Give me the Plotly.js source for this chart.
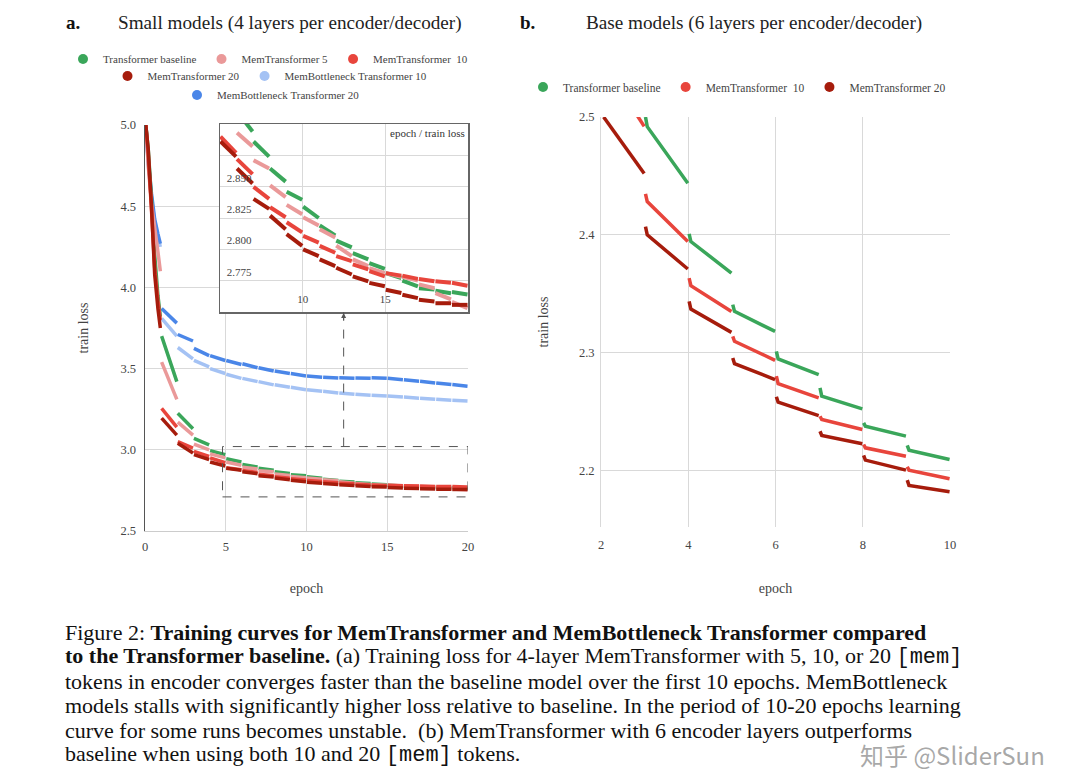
<!DOCTYPE html>
<html><head><meta charset="utf-8">
<script src="https://cdn.plot.ly/plotly-3.0.1.min.js"></script>
<style>html,body{margin:0;padding:0;background:#fff}#chart{width:1075px;height:781px}</style>
</head><body><div id="chart"></div>
<script>
// ===== Panel a: small models (train loss per epoch segment) =====
const firstEpochX = [0.05, 0.2, 0.4, 0.6, 0.8, 0.95];
const segEpochsA = [1,2,3,4,5,6,7,8,9,10,11,12,13,14,15,16,17,18,19];

const baselineFirstA = [5.0, 4.85, 4.55, 4.2, 3.95, 3.82];
const baselineStartA = [3.70, 3.225, 3.07, 2.995, 2.945, 2.91, 2.886, 2.8645, 2.846, 2.834, 2.819, 2.807, 2.797, 2.789, 2.781, 2.775, 2.769, 2.767, 2.766];
const baselineEndA   = [3.42, 3.13, 3.03, 2.97, 2.925, 2.894, 2.874, 2.854, 2.8395, 2.825, 2.811, 2.8015, 2.792, 2.7845, 2.777, 2.7705, 2.768, 2.765, 2.764];

const mem5FirstA = [5.0, 4.75, 4.52, 4.35, 4.22, 4.10];
const mem5StartA = [3.54, 3.17, 3.035, 2.975, 2.925, 2.893, 2.871, 2.851, 2.8355, 2.8256, 2.816, 2.803, 2.792, 2.785, 2.781, 2.778, 2.772, 2.765, 2.758];
const mem5EndA   = [3.31, 3.09, 3.0, 2.95, 2.905, 2.882, 2.8645, 2.8417, 2.828, 2.819, 2.8095, 2.7946, 2.7866, 2.781, 2.778, 2.775, 2.769, 2.760, 2.753];

const mem10FirstA = [5.0, 4.82, 4.48, 4.12, 3.92, 3.80];
const mem10StartA = [3.255, 3.05, 2.99, 2.95, 2.89, 2.872, 2.8498, 2.8336, 2.8216, 2.8107, 2.8027, 2.7946, 2.788, 2.7826, 2.781, 2.779, 2.7764, 2.7745, 2.7733];
const mem10EndA   = [3.14, 3.01, 2.96, 2.92, 2.877, 2.860, 2.8403, 2.8256, 2.8135, 2.8054, 2.7973, 2.7906, 2.784, 2.7785, 2.779, 2.7764, 2.7745, 2.7733, 2.771];

const mem20FirstA = [5.0, 4.85, 4.5, 4.08, 3.87, 3.75];
const mem20StartA = [3.195, 3.04, 2.97, 2.925, 2.886, 2.8645, 2.8403, 2.8269, 2.8121, 2.80, 2.792, 2.7853, 2.7785, 2.7732, 2.7678, 2.7638, 2.7597, 2.757, 2.7557];
const mem20EndA   = [3.09, 2.98, 2.94, 2.90, 2.874, 2.8525, 2.8323, 2.8161, 2.8027, 2.7946, 2.7866, 2.7799, 2.7745, 2.7705, 2.7651, 2.7611, 2.7584, 2.757, 2.7557];

const bott10FirstA = [5.0, 4.76, 4.55, 4.40, 4.31, 4.25];
const bott10StartA = [3.81, 3.63, 3.55, 3.50, 3.465, 3.44, 3.42, 3.40, 3.385, 3.37, 3.36, 3.35, 3.342, 3.336, 3.332, 3.325, 3.318, 3.311, 3.305];
const bott10EndA   = [3.70, 3.56, 3.51, 3.47, 3.44, 3.42, 3.40, 3.385, 3.37, 3.36, 3.35, 3.342, 3.336, 3.332, 3.325, 3.318, 3.311, 3.305, 3.30];

const bott20FirstA = [5.0, 4.78, 4.58, 4.42, 4.33, 4.27];
const bott20StartA = [3.87, 3.71, 3.625, 3.58, 3.55, 3.53, 3.505, 3.485, 3.47, 3.455, 3.447, 3.443, 3.442, 3.443, 3.44, 3.432, 3.422, 3.412, 3.402];
const bott20EndA   = [3.78, 3.67, 3.58, 3.55, 3.525, 3.505, 3.485, 3.47, 3.455, 3.447, 3.442, 3.44, 3.44, 3.44, 3.432, 3.422, 3.412, 3.402, 3.392];

// ===== Panel b: base models =====
const segEpochsB = [2,3,4,5,6,7,8,9];
const baselineSpikeB = [null, 2.500, 2.4008, 2.3407, 2.3011, 2.270, 2.2404, 2.2212];
const baselineStartB = [2.585, 2.4918, 2.3943, 2.335, 2.2947, 2.263, 2.2375, 2.2172];
const baselineEndB   = [2.540, 2.4438, 2.3675, 2.318, 2.2814, 2.2523, 2.2291, 2.2093];

const mem10SpikeB = [null, 2.4347, 2.3633, 2.3138, 2.280, 2.246, 2.222, 2.2031];
const mem10StartB = [2.546, 2.4282, 2.3568, 2.3096, 2.2737, 2.2432, 2.2192, 2.2003];
const mem10EndB   = [2.492, 2.3943, 2.335, 2.2935, 2.2616, 2.2347, 2.2121, 2.193];

const mem20SpikeB = [null, 2.407, 2.3435, 2.2955, 2.2625, 2.2333, 2.2127, 2.1918];
const mem20StartB = [2.500, 2.400, 2.337, 2.2907, 2.258, 2.2297, 2.2088, 2.1873];
const mem20EndB   = [2.452, 2.371, 2.3172, 2.2771, 2.2466, 2.2226, 2.2003, 2.182];

const ticksAX = [0,5,10,15,20];
const ticksAY = [2.5,3.0,3.5,4.0,4.5,5.0];
const insetTicksX = [5,10,15,20];
const insetTextX = ['', '10', '15', ''];
const insetTicksY = [2.75,2.775,2.8,2.825,2.85,2.875,2.9];
const insetTextY = ['', '2.775', '2.800', '2.825', '2.850', '', ''];
const ticksBX = [2,4,6,8,10];
const ticksBY = [2.2,2.3,2.4,2.5];

// ===== colours =====
const C = {
  base:'#3aa65a', m5:'#ea9999', m10:'#e8453c', m20:'#a61c0c', b10:'#a4c2f4', b20:'#4a86e8'
};

function buildA(first, starts, ends){
  const x=[], y=[];
  firstEpochX.forEach((e,i)=>{x.push(e); y.push(first[i]);});
  x.push(null); y.push(null);
  segEpochsA.forEach((e,i)=>{x.push(e+0.03, e+0.97, null); y.push(starts[i], ends[i], null);});
  return {x,y};
}
function buildB(spike, starts, ends){
  const x=[], y=[];
  segEpochsB.forEach((e,i)=>{
    if(spike[i]!==null){x.push(e+0.02); y.push(spike[i]);}
    x.push(e+0.06, e+0.99, null); y.push(starts[i], ends[i], null);
  });
  return {x,y};
}

const seriesA = [
  {d:buildA(bott10FirstA,bott10StartA,bott10EndA), c:C.b10},
  {d:buildA(bott20FirstA,bott20StartA,bott20EndA), c:C.b20},
  {d:buildA(baselineFirstA,baselineStartA,baselineEndA), c:C.base},
  {d:buildA(mem5FirstA,mem5StartA,mem5EndA), c:C.m5},
  {d:buildA(mem10FirstA,mem10StartA,mem10EndA), c:C.m10},
  {d:buildA(mem20FirstA,mem20StartA,mem20EndA), c:C.m20}
];
const traces = [];
seriesA.forEach(s=>{
  traces.push({x:s.d.x, y:s.d.y, xaxis:'x', yaxis:'y', mode:'lines', line:{color:s.c, width:3.5}, showlegend:false, hoverinfo:'skip'});
});
seriesA.forEach(s=>{
  traces.push({x:s.d.x, y:s.d.y, xaxis:'x2', yaxis:'y2', mode:'lines', line:{color:s.c, width:4}, showlegend:false, hoverinfo:'skip'});
});
const seriesB = [
  {d:buildB(baselineSpikeB,baselineStartB,baselineEndB), c:C.base},
  {d:buildB(mem10SpikeB,mem10StartB,mem10EndB), c:C.m10},
  {d:buildB(mem20SpikeB,mem20StartB,mem20EndB), c:C.m20}
];
seriesB.forEach(s=>{
  traces.push({x:s.d.x, y:s.d.y, xaxis:'x3', yaxis:'y3', mode:'lines', line:{color:s.c, width:3.5}, showlegend:false, hoverinfo:'skip'});
});

// legend entries
const legendEntries = [
  ['Transformer baseline', C.base, 'legend'],
  ['MemTransformer 5', C.m5, 'legend'],
  ['MemTransformer\u00a0 10', C.m10, 'legend'],
  ['MemTransformer 20', C.m20, 'legend2'],
  ['MemBottleneck Transformer 10', C.b10, 'legend2'],
  ['MemBottleneck Transformer 20', C.b20, 'legend3'],
  ['Transformer baseline', C.base, 'legend4'],
  ['MemTransformer\u00a0 10', C.m10, 'legend4'],
  ['MemTransformer 20', C.m20, 'legend4']
];
legendEntries.forEach(([n,c,lg])=>{
  traces.push({x:[null], y:[null], xaxis:(lg==='legend4'?'x3':'x'), yaxis:(lg==='legend4'?'y3':'y'), mode:'markers', marker:{color:c, size:10}, name:n, legend:lg, showlegend:true, hoverinfo:'skip'});
});

const W=1075, H=781;
const px = v => v/W;
const py = v => 1 - v/H;
const SERIF = '"Liberation Serif", "Times New Roman", serif';
const grid = '#d9d9d9';

const mainDom = [py(531), py(125)];
const insetDom = [py(312), py(124)];
const mainRange = [2.5, 5.0];
const insetBottomInMain = mainRange[0] + (insetDom[0]-mainDom[0])/(mainDom[1]-mainDom[0])*(mainRange[1]-mainRange[0]);

function legendCfg(xc, yc, fs){
  return {orientation:'h', x:px(xc), xanchor:'center', y:py(yc), yanchor:'middle',
    font:{family:SERIF, size:fs, color:'#444'}, bgcolor:'rgba(0,0,0,0)', itemwidth:30, tracegroupgap:0};
}
const capFont = {family:SERIF, size:22, color:'#111'};
function capLine(yPix, txt){
  return {xref:'paper', yref:'paper', x:px(63), y:py(yPix), xanchor:'left', yanchor:'middle', showarrow:false, font:capFont, text:txt};
}

const layout = {
  width:W, height:H, margin:{l:0,r:0,t:0,b:0},
  paper_bgcolor:'#fff', plot_bgcolor:'#fff',
  font:{family:SERIF, color:'#333'},
  showlegend:true,
  legend:legendCfg(268,59,11),
  legend2:legendCfg(270,76,11),
  legend3:legendCfg(271,95,11),
  legend4:legendCfg(737,87,11.5),
  xaxis:{domain:[px(145),px(468)], range:[0,20], anchor:'y', tickvals:ticksAX, gridcolor:grid, showline:true, linecolor:'#cccccc', zeroline:false, ticks:'', ticklabelstandoff:4,
    tickfont:{size:12.5,color:'#444'}, title:{text:'epoch', font:{size:14,color:'#444'}, standoff:30}},
  yaxis:{domain:mainDom, range:mainRange, anchor:'x', tickvals:ticksAY, tickformat:'.1f', gridcolor:grid, showline:true, linecolor:'#555', linewidth:1.5, zeroline:false, ticks:'', ticklabelstandoff:5,
    tickfont:{size:12.5,color:'#444'}, title:{text:'train loss', font:{size:14,color:'#444'}, standoff:28}},
  xaxis2:{domain:[px(220),px(468)], range:[5,20], anchor:'y2', tickvals:insetTicksX, ticktext:insetTextX, ticklabelposition:'inside', ticklabelstandoff:6, ticks:'', gridcolor:grid,
    showline:true, mirror:true, linecolor:'#666', linewidth:1.5, zeroline:false, tickfont:{size:11,color:'#444'}},
  yaxis2:{domain:insetDom, range:[2.75,2.90], anchor:'x2', tickvals:insetTicksY, ticktext:insetTextY, ticklabelposition:'inside', ticklabelshift:-9, ticklabelstandoff:6, ticks:'', gridcolor:grid,
    showline:true, mirror:true, linecolor:'#666', linewidth:1.5, zeroline:false, tickfont:{size:11,color:'#444'}},
  xaxis3:{domain:[px(601),px(950)], range:[2,10], anchor:'y3', tickvals:ticksBX, gridcolor:grid, showline:false, zeroline:false, ticks:'', ticklabelstandoff:8,
    tickfont:{size:12.5,color:'#444'}, title:{text:'epoch', font:{size:14,color:'#444'}, standoff:32}},
  yaxis3:{domain:[py(527),py(117)], range:[2.152,2.5], anchor:'x3', tickvals:ticksBY, tickformat:'.1f', gridcolor:grid, showline:true, linecolor:grid, zeroline:false, ticks:'', ticklabelstandoff:3,
    tickfont:{size:12.5,color:'#444'}, title:{text:'train loss', font:{size:14,color:'#444'}, standoff:26}},
  shapes:[
    {type:'rect', xref:'x', yref:'y', x0:4.8, x1:20, y0:2.71, y1:3.02, line:{color:'#555', width:1, dash:'dash'}},
    {type:'line', xref:'x', yref:'y', x0:12.3, x1:12.3, y0:3.02, y1:insetBottomInMain, line:{color:'#555', width:1, dash:'dash'}}
  ],
  annotations:[
    {xref:'paper', yref:'paper', x:px(64), y:py(23), xanchor:'left', yanchor:'middle', text:'<b>a.</b>', showarrow:false, font:{family:SERIF, size:19, color:'#111'}},
    {xref:'paper', yref:'paper', x:px(116), y:py(23), xanchor:'left', yanchor:'middle', text:'Small models (4 layers per encoder/decoder)', showarrow:false, font:{family:SERIF, size:19.2, color:'#222'}},
    {xref:'paper', yref:'paper', x:px(518), y:py(23), xanchor:'left', yanchor:'middle', text:'<b>b.</b>', showarrow:false, font:{family:SERIF, size:19, color:'#111'}},
    {xref:'paper', yref:'paper', x:px(584), y:py(23), xanchor:'left', yanchor:'middle', text:'Base models (6 layers per encoder/decoder)', showarrow:false, font:{family:SERIF, size:19.2, color:'#222'}},
    {xref:'paper', yref:'paper', x:px(467), y:py(133), xanchor:'right', yanchor:'middle', text:'epoch / train loss', showarrow:false, font:{family:SERIF, size:11, color:'#333'}},
    {xref:'x', yref:'paper', x:12.3, y:insetDom[0], ax:0, ay:10, text:'', showarrow:true, arrowhead:2, arrowsize:1, arrowwidth:1, arrowcolor:'#555', standoff:1},
    capLine(632, 'Figure 2: <b>Training curves for MemTransformer and MemBottleneck Transformer compared</b>'),
    capLine(656.5, '<b>to the Transformer baseline.</b> (a) Training loss for 4-layer MemTransformer with 5, 10, or 20 <span style="font-family:Liberation Mono">[mem]</span>'),
    capLine(681, 'tokens in encoder converges faster than the baseline model over the first 10 epochs. MemBottleneck'),
    capLine(705.5, 'models stalls with significantly higher loss relative to baseline. In the period of 10-20 epochs learning'),
    capLine(730, 'curve for some runs becomes unstable.  (b) MemTransformer with 6 encoder layers outperforms'),
    capLine(754.5, 'baseline when using both 10 and 20 <span style="font-family:Liberation Mono">[mem]</span> tokens.'),
    {xref:'paper', yref:'paper', x:px(858), y:py(754), xanchor:'left', yanchor:'middle', showarrow:false, font:{family:'"Noto Sans CJK SC", "Noto Sans", sans-serif', size:24, color:'rgba(140,140,140,0.75)'},
      text:'知乎 @SliderSun'}
  ]
};

Plotly.newPlot('chart', traces, layout, {displayModeBar:false, staticPlot:true});
</script>
</body></html>
